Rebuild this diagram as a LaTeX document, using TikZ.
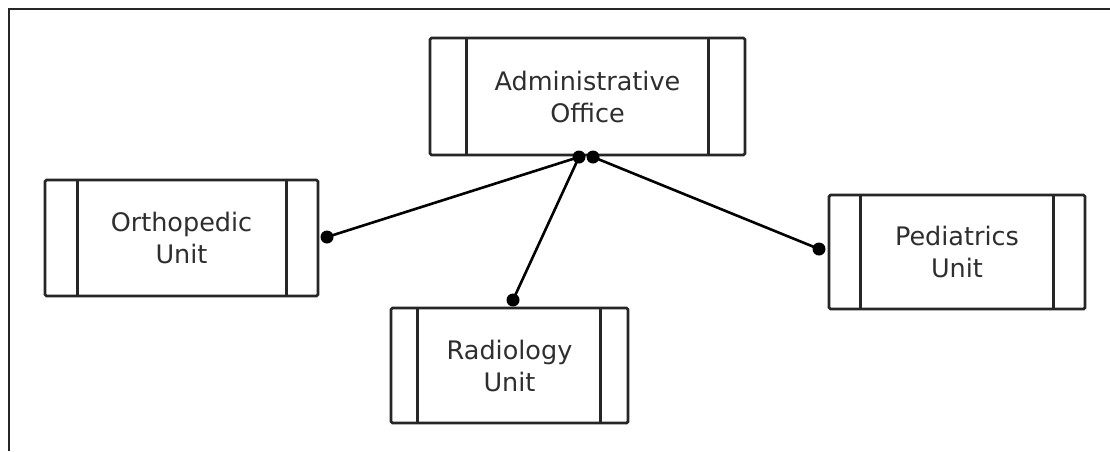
\documentclass[tikz,border=0pt]{standalone}
\usepackage{fontspec}
\setmainfont{DejaVu Sans}
\begin{document}
\begin{tikzpicture}[x=1pt,y=-1pt,
  unit/.style={draw=black!85, line width=2.8pt, rounded corners=1.5pt, align=center,
    text=black!82, font=\fontsize{25.5}{32}\selectfont, inner sep=0pt},
  bar/.style={draw=black!85, line width=2.8pt},
  dot/.style={circle, fill=black, inner sep=0pt, minimum size=13pt},
  link/.style={draw=black, line width=2.6pt},
  frame/.style={draw=black!85, line width=2.8pt}]
\useasboundingbox (0,0) rectangle (1110,451);
\draw[frame] (1110,9) -- (9,9) -- (9,451);

\node[unit, minimum width=315pt, minimum height=117pt] (admin) at (587.5,96.5) {Administrative\\Office};
\draw[bar] ([xshift=38pt]admin.north west) -- ([xshift=38pt]admin.south west);
\draw[bar] ([xshift=-38pt]admin.north east) -- ([xshift=-38pt]admin.south east);

\node[unit, minimum width=273pt, minimum height=116pt] (ortho) at (181.5,238) {Orthopedic\\Unit};
\draw[bar] ([xshift=34pt]ortho.north west) -- ([xshift=34pt]ortho.south west);
\draw[bar] ([xshift=-33pt]ortho.north east) -- ([xshift=-33pt]ortho.south east);

\node[unit, minimum width=237pt, minimum height=115pt] (radio) at (509.5,365.5) {Radiology\\Unit};
\draw[bar] ([xshift=28pt]radio.north west) -- ([xshift=28pt]radio.south west);
\draw[bar] ([xshift=-29pt]radio.north east) -- ([xshift=-29pt]radio.south east);

\node[unit, minimum width=256pt, minimum height=114pt] (pedia) at (957,252) {Pediatrics\\Unit};
\draw[bar] ([xshift=33pt]pedia.north west) -- ([xshift=33pt]pedia.south west);
\draw[bar] ([xshift=-33pt]pedia.north east) -- ([xshift=-33pt]pedia.south east);

\node[dot] (a1) at (579,157) {};
\node[dot] (a2) at (593,157) {};
\node[dot] (o1) at (327,237) {};
\node[dot] (r1) at (513,300) {};
\node[dot] (p1) at (819,249) {};

\draw[link] (a1.center) -- (o1.center);
\draw[link] (a1.center) -- (r1.center);
\draw[link] (a2.center) -- (p1.center);
\end{tikzpicture}
\end{document}
